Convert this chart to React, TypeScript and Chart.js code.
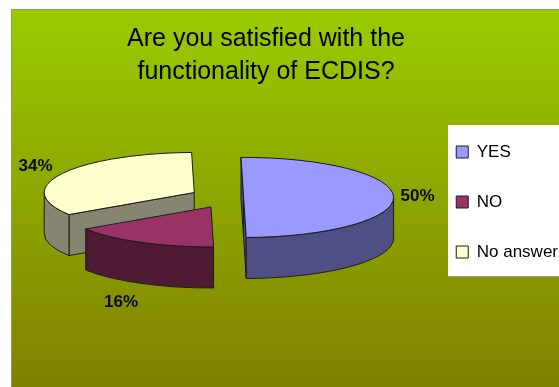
import React, { useEffect, useRef } from "react";
import { Chart, registerables } from "chart.js";

Chart.register(...registerables);

const categories = ["YES", "NO", "No answer"];
const shares = [50, 16, 34];
const faceColors = ["#9999FF", "#993366", "#FFFFCC"];
const wallColors = ["#4F4F85", "#4F1A33", "#858570"];
const explodeBy = [14, 40, 40];
const titleLines = ["Are you satisfied with the", "functionality of ECDIS?"];
// Label nudges away from the rim of each slice, in pixels.
const labelNudgeX = [24, -20, -26];
const labelNudgeY = [0, 19, -8];
// Order in which slices are painted, back to front.
const paintOrder = [2, 1, 0];

const FONT = "'Liberation Sans', Arial, sans-serif";
const TILT = 0.267;
const DEPTH = 41;
const PIE_CENTER_Y = 197.5;
const TITLE_CENTER_X = 266;
const PANEL = { left: 11, top: 9 };
const LEGEND_BOX = { left: 448, top: 125, bottom: 276 };
const OUTLINE = "#1c1c1c";

const piePlugin = {
  id: "tiltedPie",
  afterLayout(chart: any) {
    // The heading is centred over the panel rather than over the plot area.
    const half = (chart.titleBlock.right - chart.titleBlock.left) / 2;
    chart.titleBlock.left = TITLE_CENTER_X - half;
    chart.titleBlock.right = TITLE_CENTER_X + half;
  },
  beforeDraw(chart: any) {
    const { ctx, width, height } = chart;
    const fill = ctx.createLinearGradient(0, PANEL.top, 0, height);
    fill.addColorStop(0, "#99CC00");
    fill.addColorStop(1, "#808000");
    ctx.save();
    ctx.fillStyle = fill;
    ctx.fillRect(PANEL.left, PANEL.top, width - PANEL.left, height - PANEL.top);
    ctx.strokeStyle = "#8E9A66";
    ctx.lineWidth = 1;
    ctx.beginPath();
    ctx.moveTo(PANEL.left + 0.5, height);
    ctx.lineTo(PANEL.left + 0.5, PANEL.top + 0.5);
    ctx.lineTo(width, PANEL.top + 0.5);
    ctx.stroke();
    ctx.fillStyle = "#FFFFFF";
    ctx.fillRect(LEGEND_BOX.left, LEGEND_BOX.top, width - LEGEND_BOX.left, LEGEND_BOX.bottom - LEGEND_BOX.top);
    ctx.strokeStyle = "#9A9A80";
    ctx.beginPath();
    ctx.moveTo(LEGEND_BOX.left, LEGEND_BOX.bottom + 0.5);
    ctx.lineTo(width, LEGEND_BOX.bottom + 0.5);
    ctx.stroke();
    ctx.restore();
  },
  beforeDatasetsDraw(chart: any) {
    const { ctx, chartArea } = chart;
    const arcs = chart.getDatasetMeta(0).data;
    const planeY = (chartArea.top + chartArea.bottom) / 2;

    const geometry = arcs.map((arc: any) => {
      const { x, y, startAngle, endAngle, outerRadius } = arc.getProps(
        ["x", "y", "startAngle", "endAngle", "outerRadius"],
        true
      );
      const mid = (startAngle + endAngle) / 2;
      const shift = arc.options.offset || 0;
      const cx = x + Math.cos(mid) * shift;
      const cy = PIE_CENTER_Y + (y - planeY + Math.sin(mid) * shift) * TILT;
      return { cx, cy, startAngle, endAngle, r: outerRadius, mid };
    });

    const rimX = (g: any, a: number) => g.cx + g.r * Math.cos(a);
    const rimY = (g: any, a: number) => g.cy + g.r * TILT * Math.sin(a);
    const paint = (fill: string) => {
      ctx.fillStyle = fill;
      ctx.fill();
      ctx.stroke();
    };

    ctx.save();
    ctx.lineWidth = 1;
    ctx.lineJoin = "round";
    ctx.strokeStyle = OUTLINE;

    paintOrder.forEach((i) => {
      const g = geometry[i];
      const wall = wallColors[i];

      // Cut faces from the hub to each straight edge, skipping any that face away.
      [
        { a: g.startAngle, normal: g.startAngle - Math.PI / 2 },
        { a: g.endAngle, normal: g.endAngle + Math.PI / 2 },
      ].forEach(({ a, normal }) => {
        if (Math.sin(normal) <= 0) return;
        ctx.beginPath();
        ctx.moveTo(g.cx, g.cy);
        ctx.lineTo(rimX(g, a), rimY(g, a));
        ctx.lineTo(rimX(g, a), rimY(g, a) + DEPTH);
        ctx.lineTo(g.cx, g.cy + DEPTH);
        ctx.closePath();
        paint(wall);
      });

      // Outer wall, only along the half of the rim facing the viewer.
      const from = Math.max(g.startAngle, 0);
      const to = Math.min(g.endAngle, Math.PI);
      if (to > from) {
        ctx.beginPath();
        ctx.ellipse(g.cx, g.cy, g.r, g.r * TILT, 0, from, to);
        ctx.ellipse(g.cx, g.cy + DEPTH, g.r, g.r * TILT, 0, to, from, true);
        ctx.closePath();
        paint(wall);
      }

      // Top face.
      ctx.beginPath();
      ctx.moveTo(g.cx, g.cy);
      ctx.ellipse(g.cx, g.cy, g.r, g.r * TILT, 0, g.startAngle, g.endAngle);
      ctx.closePath();
      paint(faceColors[i]);
    });

    // Percentage labels beside each slice.
    ctx.fillStyle = "#0A0A0A";
    ctx.font = `bold 17px ${FONT}`;
    ctx.textAlign = "center";
    ctx.textBaseline = "middle";
    geometry.forEach((g: any, i: number) => {
      const drop = Math.sin(g.mid) > 0.1 ? DEPTH : 0;
      ctx.fillText(
        `${shares[i]}%`,
        rimX(g, g.mid) + labelNudgeX[i],
        rimY(g, g.mid) + drop + labelNudgeY[i]
      );
    });
    ctx.restore();
    return false;
  },
};

export default function App() {
  const canvasRef = useRef<HTMLCanvasElement>(null);

  useEffect(() => {
    const chart = new Chart(canvasRef.current as HTMLCanvasElement, {
      type: "pie",
      data: {
        labels: categories,
        datasets: [
          {
            data: shares,
            backgroundColor: faceColors,
            borderColor: OUTLINE,
            borderWidth: 1,
            offset: explodeBy,
          },
        ],
      },
      options: {
        responsive: false,
        animation: false,
        radius: 150,
        rotation: -1,
        layout: { padding: { left: 36, right: -9, top: 17, bottom: 0 } },
        plugins: {
          tooltip: { enabled: false },
          title: {
            display: true,
            text: titleLines,
            color: "#000000",
            padding: { top: 6, bottom: 0 },
            font: { family: FONT, size: 25, weight: "normal", lineHeight: 1.3 },
          },
          legend: {
            display: true,
            position: "right",
            labels: {
              color: "#000000",
              boxWidth: 12,
              boxHeight: 12,
              padding: 33,
              font: { family: FONT, size: 17 },
            },
          },
        },
      } as any,
      plugins: [piePlugin as any],
    });
    return () => chart.destroy();
  }, []);

  return (
    <canvas
      ref={canvasRef}
      width={559}
      height={387}
      style={{ position: "fixed", left: 0, top: 0, display: "block" }}
    />
  );
}
